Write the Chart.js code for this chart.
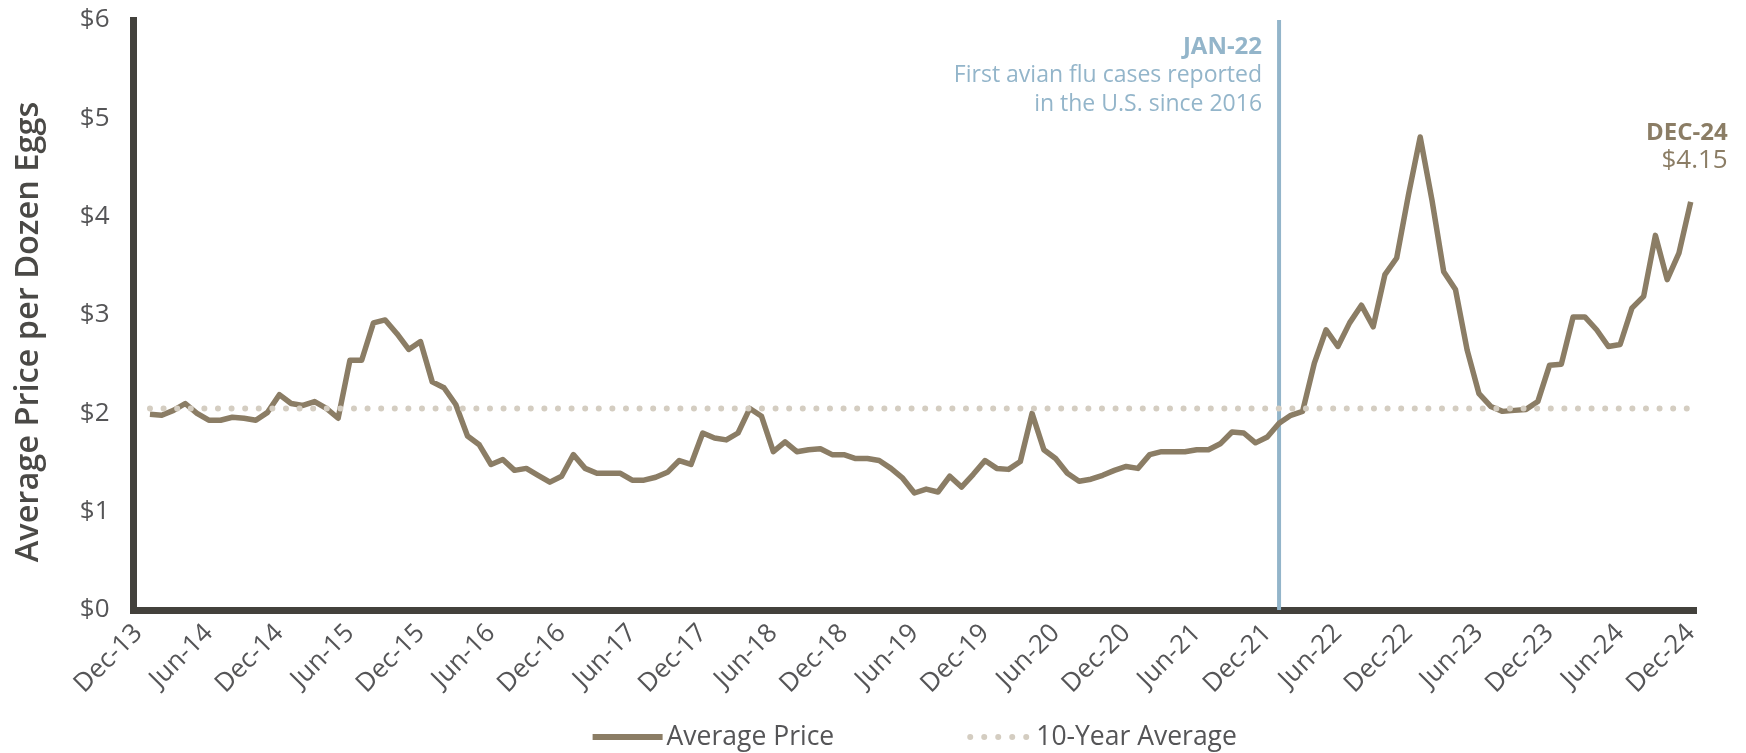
<!DOCTYPE html>
<html>
<head>
<meta charset="utf-8">
<title>Average Price per Dozen Eggs</title>
<script src="https://cdn.jsdelivr.net/npm/chart.js@4.4.1/dist/chart.umd.min.js"></script>
<style>
  html, body { margin: 0; padding: 0; background: #ffffff; }
  #wrap { width: 1746px; height: 753px; position: relative; }
</style>
</head>
<body>
<div id="wrap"><canvas id="eggChart"></canvas></div>
<script>
// x positions are months counted from Dec-13 (= 0); data runs Jan-14 .. Dec-24
const tickLabels = ['Dec-13', 'Jun-14', 'Dec-14', 'Jun-15', 'Dec-15', 'Jun-16', 'Dec-16', 'Jun-17',
  'Dec-17', 'Jun-18', 'Dec-18', 'Jun-19', 'Dec-19', 'Jun-20', 'Dec-20', 'Jun-21', 'Dec-21',
  'Jun-22', 'Dec-22', 'Jun-23', 'Dec-23', 'Jun-24', 'Dec-24'];

const avgPrice = [
  1.99, 1.98, 2.03, 2.10, 2.00, 1.93, 1.93, 1.96, 1.95, 1.93, 2.01, 2.19, // 2014
  2.10, 2.08, 2.12, 2.05, 1.95, 2.54, 2.54, 2.92, 2.95, 2.81, 2.65, 2.73, // 2015
  2.32, 2.26, 2.09, 1.77, 1.68, 1.48, 1.53, 1.42, 1.44, 1.37, 1.30, 1.36, // 2016
  1.58, 1.44, 1.39, 1.39, 1.39, 1.32, 1.32, 1.35, 1.40, 1.52, 1.48, 1.80, // 2017
  1.75, 1.73, 1.80, 2.05, 1.97, 1.61, 1.71, 1.61, 1.63, 1.64, 1.58, 1.58, // 2018
  1.54, 1.54, 1.52, 1.44, 1.34, 1.19, 1.23, 1.20, 1.36, 1.25, 1.38, 1.52, // 2019
  1.44, 1.43, 1.51, 2.00, 1.63, 1.54, 1.39, 1.31, 1.33, 1.37, 1.42, 1.46, // 2020
  1.44, 1.58, 1.61, 1.61, 1.61, 1.63, 1.63, 1.69, 1.81, 1.80, 1.70, 1.76, // 2021
  1.90, 1.98, 2.02, 2.51, 2.85, 2.68, 2.92, 3.10, 2.88, 3.41, 3.58, 4.22, // 2022
  4.81, 4.17, 3.44, 3.26, 2.64, 2.20, 2.07, 2.02, 2.03, 2.04, 2.12, 2.49, // 2023
  2.50, 2.98, 2.98, 2.85, 2.68, 2.70, 3.07, 3.19, 3.81, 3.36, 3.63, 4.15  // 2024
];

const tenYearAvg = 2.05;

const eventMonth = 97;       // Jan-22
const eventTitle = 'JAN-22';
const eventText = ['First avian flu cases reported', 'in the U.S. since 2016'];
const lastTitle = 'DEC-24';
const lastText = '$4.15';
const yTitle = 'Average Price per Dozen Eggs';

const priceColor = '#8b7d65';
const avgColor = '#d4cdc1';
const axisColor = '#43413c';
const tickColor = '#555557';
const eventColor = '#93b5ca';
const fontFamily = '"Open Sans", Lato, sans-serif';

const pricePoints = avgPrice.map((v, i) => ({ x: i + 1, y: v }));
const avgPoints = [{ x: 1, y: tenYearAvg }, { x: avgPrice.length, y: tenYearAvg }];

const notes = {
  id: 'notes',
  beforeDatasetsDraw(chart) {
    const { ctx, chartArea, scales: { x } } = chart;
    const xPos = x.getPixelForValue(eventMonth);
    ctx.save();
    ctx.strokeStyle = eventColor;
    ctx.lineWidth = 4;
    ctx.beginPath();
    ctx.moveTo(xPos, chartArea.top);
    ctx.lineTo(xPos, chartArea.bottom);
    ctx.stroke();

    ctx.fillStyle = eventColor;
    ctx.textAlign = 'right';
    ctx.textBaseline = 'middle';
    ctx.font = 'bold 24px ' + fontFamily;
    ctx.fillText(eventTitle, xPos - 17, chartArea.top + 27);
    ctx.font = '23px ' + fontFamily;
    ctx.fillText(eventText[0], xPos - 17, chartArea.top + 55);
    ctx.fillText(eventText[1], xPos - 17, chartArea.top + 84);
    ctx.restore();
  },
  afterDraw(chart) {
    const { ctx, chartArea, scales: { x } } = chart;
    ctx.save();

    // y axis title, drawn by hand so it can sit a little below centre like the original
    ctx.translate(29, 332);
    ctx.rotate(-Math.PI / 2);
    ctx.fillStyle = '#4a4946';
    ctx.textAlign = 'center';
    ctx.textBaseline = 'middle';
    ctx.font = '600 32.5px ' + fontFamily;
    ctx.fillText(yTitle, 0, 0);
    ctx.setTransform(1, 0, 0, 1, 0, 0);

    // label for the last point
    const lastX = x.getPixelForValue(avgPrice.length);
    ctx.fillStyle = priceColor;
    ctx.textAlign = 'right';
    ctx.font = 'bold 24px ' + fontFamily;
    ctx.fillText(lastTitle, lastX + 37, 133);
    ctx.font = '26px ' + fontFamily;
    ctx.fillText(lastText, lastX + 37, 161);

    // legend
    const items = [
      { text: 'Average Price', color: priceColor, width: 6, dash: [] },
      { text: '10-Year Average', color: avgColor, width: 6, dash: [0, 14] }
    ];
    ctx.font = '26.5px ' + fontFamily;
    const swatch = 70, gapIn = 4, gapOut = 128;
    const widths = items.map(it => ctx.measureText(it.text).width);
    const total = swatch * 2 + gapIn * 2 + widths[0] + widths[1] + gapOut;
    let cx = (chartArea.left + chartArea.right) / 2 - total / 2;
    const ly = 737;
    items.forEach((it, i) => {
      ctx.strokeStyle = it.color;
      ctx.lineWidth = it.width;
      ctx.lineCap = it.dash.length ? 'round' : 'butt';
      ctx.setLineDash(it.dash);
      ctx.beginPath();
      if (it.dash.length) {
        ctx.moveTo(cx + 8, ly);
        ctx.lineTo(cx + swatch - 4, ly);
      } else {
        ctx.moveTo(cx, ly);
        ctx.lineTo(cx + swatch, ly);
      }
      ctx.stroke();
      ctx.setLineDash([]);
      ctx.fillStyle = tickColor;
      ctx.textAlign = 'left';
      ctx.fillText(it.text, cx + swatch + gapIn, ly);
      cx += swatch + gapIn + widths[i] + gapOut;
    });
    ctx.restore();
  }
};

const ctx = document.getElementById('eggChart');
new Chart(ctx.getContext('2d'), {
  type: 'line',
  data: {
    datasets: [
      {
        label: '10-Year Average',
        data: avgPoints,
        borderColor: avgColor,
        borderWidth: 6,
        borderDash: [0, 13.6],
        borderCapStyle: 'round',
        pointRadius: 0,
        order: 0
      },
      {
        label: 'Average Price',
        data: pricePoints,
        borderColor: priceColor,
        borderWidth: 5.5,
        borderJoinStyle: 'round',
        tension: 0,
        pointRadius: 0,
        order: 1
      }
    ]
  },
  options: {
    responsive: true,
    maintainAspectRatio: false,
    animation: false,
    layout: { padding: { top: 20, right: 50, bottom: 0, left: 0 } },
    scales: {
      x: {
        type: 'linear',
        min: -0.4,
        max: 132.45,
        afterBuildTicks: scale => {
          scale.ticks = tickLabels.map((t, i) => ({ value: i * 6 }));
        },
        afterFit: scale => { scale.height = 143; },
        grid: { display: false, drawTicks: false },
        border: { display: true, color: axisColor, width: 7 },
        ticks: {
          autoSkip: false,
          minRotation: 45,
          maxRotation: 45,
          padding: 8,
          color: tickColor,
          font: { family: fontFamily, size: 26 },
          callback: value => tickLabels[Math.round(value / 6)]
        }
      },
      y: {
        min: 0,
        max: 6,
        afterFit: scale => {
          scale.width = 133.5;
          scale.paddingTop = 0;
          scale.paddingBottom = 0;
        },
        grid: { display: false, drawTicks: false },
        border: { display: true, color: axisColor, width: 7 },
        ticks: {
          stepSize: 1,
          padding: 24,
          color: tickColor,
          font: { family: fontFamily, size: 26 },
          callback: value => '$' + value
        }
      }
    },
    plugins: {
      legend: { display: false },
      tooltip: { enabled: false }
    }
  },
  plugins: [notes]
});
</script>
</body>
</html>
